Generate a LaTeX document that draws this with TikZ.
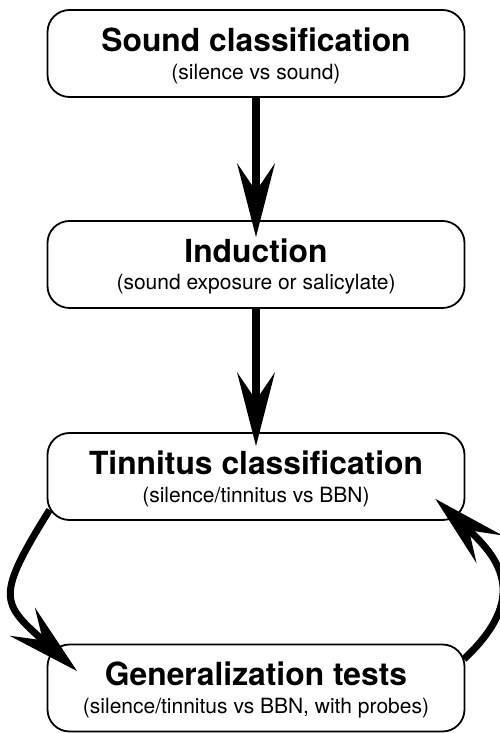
\documentclass[tikz,border=0pt]{standalone}
\usepackage{fontspec}
\setmainfont{TeX Gyre Heros}
\usetikzlibrary{arrows.meta}
\def\stagetext#1#2{{\fontsize{31.8}{27}\selectfont\bfseries\rule{0pt}{28pt}#1}\\#2}

\begin{document}
\begin{tikzpicture}[x=1pt, y=1pt,
		stage/.style={draw, line width=1.8pt, rounded corners=22pt, minimum width=417pt, minimum height=87pt, inner sep=0pt, align=center, font=\fontsize{21}{27.5}\selectfont},
		bigarrow/.style={line width=7.5pt, -{Stealth[length=74pt, width=38pt, inset=28pt, line width=0pt]}}]
		%%%%% START %%%%%
		\useasboundingbox (0, 0) rectangle (499, 733);
		
		\node[stage] (sound) at (256, 679.5) {\stagetext{Sound classification}{(silence vs sound)}};
		\node[stage] (induction) at (256, 468.5) {\stagetext{Induction}{(sound exposure or salicylate)}};
		\node[stage] (tinnitus) at (256, 256.5) {\stagetext{Tinnitus classification}{(silence/tinnitus vs BBN)}};
		\node[stage] (tests) at (256, 45) {\stagetext{Generalization tests}{(silence/tinnitus vs BBN, with probes)}};
		
		\draw[bigarrow, shorten >=-17pt] (sound) -- (induction);
		\draw[bigarrow, shorten >=-14pt] (induction) -- (tinnitus);
		
		% loop between the last two stages
		\draw[bigarrow, line width=7pt] ([shift={(3, 11)}]tinnitus.south west) to[out=238, in=138, looseness=1.6] ([shift={(30.5, -27.5)}]tests.north west);
		\draw[bigarrow, line width=7pt] ([shift={(-1.5, -15.5)}]tests.north east) to[out=43, in=317, looseness=1.4] ([shift={(-30, 22)}]tinnitus.south east);
		
		%%%%% END %%%%%
\end{tikzpicture}
\end{document}
